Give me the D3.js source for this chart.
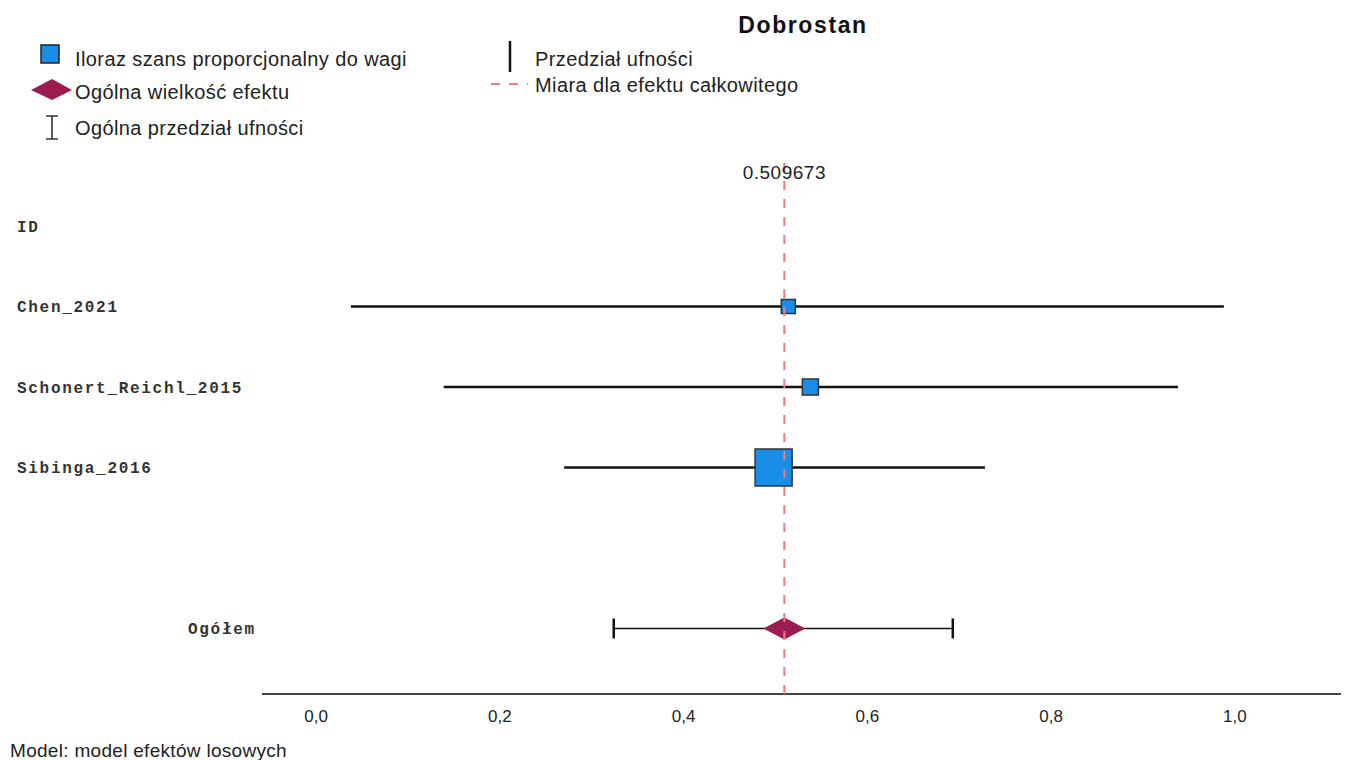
<!DOCTYPE html>
<html>
<head>
<meta charset="utf-8">
<script src="https://cdn.jsdelivr.net/npm/d3@7"></script>
<style>
	body { margin: 0; background: #fff; }
	text { font-family: "Liberation Sans", Arial, sans-serif; fill: #222; }
	.legend-text { font-size: 20px; letter-spacing: 0.4px; }
	.mono { font-family: "Liberation Mono", "Courier New", monospace; font-weight: bold; fill: #333; }
</style>
</head>
<body>
<svg id="chart" width="1346" height="760"></svg>
<script>
'use strict';

var BOX_COLOR = "#1a8de6";
var DIAMOND_COLOR = "#9c1c52";
var LINE_COLOR = "#f07c7c";

var studies = ["Chen_2021", "Schonert_Reichl_2015", "Sibinga_2016"];
var effects = [0.514, 0.538, 0.498];
var lower = [0.038, 0.139, 0.270];
var upper = [0.988, 0.938, 0.728];
var weights = [10.8, 14.1, 75.2];

var overallEffect = 0.509673;
var overallLower = 0.324;
var overallUpper = 0.693;

var xTicks = [0, 0.2, 0.4, 0.6, 0.8, 1.0];

var svg = d3.select("#chart");

var x = d3.scaleLinear()
	.domain([-0.0588, 1.1155])
	.range([262, 1341]);

// rows: 0 = ID header, 1..3 studies, 5 = overall
var y = d3.scaleLinear()
	.domain([0, 5])
	.range([226, 628.5]);

var size = d3.scaleSqrt()
	.domain([0, 100])
	.range([0, 42.7]);

// title
svg.append("text")
	.attr("x", 803).attr("y", 33)
	.attr("text-anchor", "middle")
	.style("font-size", "23px")
	.style("font-weight", "bold")
	.style("letter-spacing", "1.6px")
	.style("fill", "#111")
	.text("Dobrostan");

// legend
var lg = svg.append("g");
lg.append("rect")
	.attr("x", 41).attr("y", 45).attr("width", 18).attr("height", 18)
	.attr("fill", BOX_COLOR).attr("stroke", "#222").attr("stroke-width", 1.5);
lg.append("text").attr("class", "legend-text").attr("x", 75).attr("y", 66)
	.text("Iloraz szans proporcjonalny do wagi");

lg.append("path")
	.attr("d", "M31,90 L52,79 L72,90 L52,100 Z")
	.attr("fill", DIAMOND_COLOR);
lg.append("text").attr("class", "legend-text").attr("x", 75).attr("y", 99)
	.text("Ogólna wielkość efektu");

lg.append("path")
	.attr("d", "M46,116 L58,116 M52,116 L52,139 M46,139 L58,139")
	.attr("stroke", "#333").attr("stroke-width", 1.6).attr("fill", "none");
lg.append("text").attr("class", "legend-text").attr("x", 75).attr("y", 135)
	.text("Ogólna przedział ufności");

lg.append("line")
	.attr("x1", 510).attr("x2", 510).attr("y1", 41).attr("y2", 72)
	.attr("stroke", "#111").attr("stroke-width", 2.5);
lg.append("text").attr("class", "legend-text").attr("x", 535).attr("y", 66)
	.text("Przedział ufności");

lg.append("line")
	.attr("x1", 491).attr("x2", 528).attr("y1", 84).attr("y2", 84)
	.attr("stroke", LINE_COLOR).attr("stroke-width", 2)
	.attr("stroke-dasharray", "9,9");
lg.append("text").attr("class", "legend-text").attr("x", 535).attr("y", 92)
	.text("Miara dla efektu całkowitego");

// row labels
svg.append("text").attr("class", "mono")
	.attr("x", 17).attr("y", y(0)).attr("dy", "0.35em")
	.style("font-size", "16px").style("letter-spacing", "1.7px")
	.text("ID");

svg.selectAll(".study-label")
	.data(studies)
	.enter().append("text")
		.attr("class", "mono study-label")
		.attr("x", 17)
		.attr("y", function(d, i) { return y(i + 1); })
		.attr("dy", "0.35em")
		.style("font-size", "16px")
		.style("letter-spacing", "1.7px")
		.text(function(d) { return d; });

svg.append("text").attr("class", "mono")
	.attr("x", 188).attr("y", y(5)).attr("dy", "0.35em")
	.style("font-size", "16px").style("letter-spacing", "1.7px")
	.text("Ogółem");

// axis line
svg.append("line")
	.attr("x1", x.range()[0]).attr("x2", x.range()[1])
	.attr("y1", 694).attr("y2", 694)
	.attr("stroke", "#444").attr("stroke-width", 2);

svg.selectAll(".tick-label")
	.data(xTicks)
	.enter().append("text")
		.attr("class", "tick-label")
		.attr("x", function(d) { return x(d); })
		.attr("y", 722)
		.attr("text-anchor", "middle")
		.style("font-size", "17px")
		.text(function(d) { return d3.format(".1f")(d).replace(".", ","); });

// study CIs
svg.selectAll(".ci")
	.data(studies)
	.enter().append("line")
		.attr("class", "ci")
		.attr("x1", function(d, i) { return x(lower[i]); })
		.attr("x2", function(d, i) { return x(upper[i]); })
		.attr("y1", function(d, i) { return y(i + 1); })
		.attr("y2", function(d, i) { return y(i + 1); })
		.attr("stroke", "#111").attr("stroke-width", 2.5);

// overall CI
var oy = y(5);
svg.append("line")
	.attr("x1", x(overallLower)).attr("x2", x(overallUpper))
	.attr("y1", oy).attr("y2", oy)
	.attr("stroke", "#111").attr("stroke-width", 1.6);
[overallLower, overallUpper].forEach(function(v) {
	svg.append("line")
		.attr("x1", x(v)).attr("x2", x(v))
		.attr("y1", oy - 10).attr("y2", oy + 10)
		.attr("stroke", "#111").attr("stroke-width", 2.5);
});

// diamond
svg.append("path")
	.attr("d", "M" + (x(overallEffect) - 21) + "," + oy +
		" L" + x(overallEffect) + "," + (oy - 11) +
		" L" + (x(overallEffect) + 21) + "," + oy +
		" L" + x(overallEffect) + "," + (oy + 11) + " Z")
	.attr("fill", DIAMOND_COLOR);

// boxes
svg.selectAll(".box")
	.data(studies)
	.enter().append("rect")
		.attr("class", "box")
		.attr("x", function(d, i) { return x(effects[i]) - size(weights[i]) / 2; })
		.attr("y", function(d, i) { return y(i + 1) - size(weights[i]) / 2; })
		.attr("width", function(d, i) { return size(weights[i]); })
		.attr("height", function(d, i) { return size(weights[i]); })
		.attr("fill", BOX_COLOR)
		.attr("stroke", "#333").attr("stroke-width", 1.5);

// overall effect line
svg.append("line")
	.attr("x1", x(overallEffect)).attr("x2", x(overallEffect))
	.attr("y1", 163).attr("y2", 694)
	.attr("stroke", LINE_COLOR).attr("stroke-width", 2)
	.attr("stroke-dasharray", "9,9");

svg.append("text")
	.attr("x", x(overallEffect)).attr("y", 179)
	.attr("text-anchor", "middle")
	.style("font-size", "19px")
	.style("letter-spacing", "0.5px")
	.text(String(overallEffect));

svg.append("text")
	.attr("x", 10).attr("y", 757)
	.style("font-size", "19px")
	.style("letter-spacing", "0.3px")
	.text("Model: model efektów losowych");
</script>
</body>
</html>
